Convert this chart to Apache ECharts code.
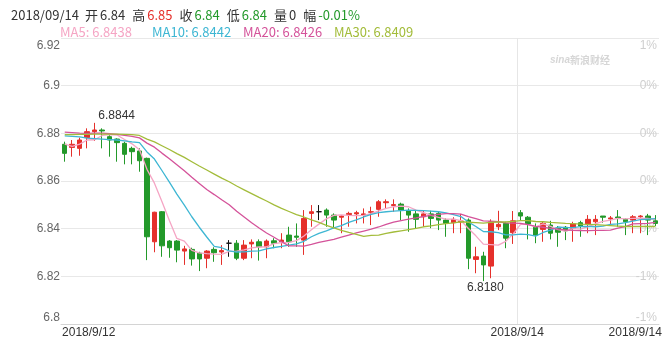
<!DOCTYPE html>
<html><head><meta charset="utf-8">
<script src="https://cdn.jsdelivr.net/npm/echarts@6/dist/echarts.min.js"></script>
<style>html,body{margin:0;padding:0;background:#fff}#c{width:666px;height:339px}</style>
</head><body><div id="c"></div>
<script>
// candle values: open, close, low, high
const opens = [6.8754,6.8741,6.8737,6.8782,6.8807,6.8814,6.8786,6.8776,6.8758,6.8737,6.8726,6.8695,6.8345,6.8471,6.8348,6.8348,6.8306,6.8313,6.8297,6.8276,6.8313,6.8302,6.8339,6.8339,6.8276,6.8336,6.8345,6.8324,6.8349,6.8345,6.8373,6.8369,6.8352,6.8464,6.8471,6.8478,6.8457,6.8448,6.8459,6.8462,6.8457,6.8469,6.8481,6.8509,6.8497,6.8503,6.8475,6.8462,6.8450,6.8462,6.8464,6.8436,6.8425,6.8428,6.8436,6.8271,6.8285,6.8243,6.8408,6.8422,6.8383,6.8467,6.8448,6.8406,6.8397,6.8415,6.8402,6.8406,6.8402,6.8425,6.8420,6.8429,6.8453,6.8441,6.8449,6.8439,6.8436,6.8450,6.8453,6.8433];
const closes = [6.8716,6.8754,6.8772,6.8807,6.8814,6.8810,6.8772,6.8761,6.8712,6.8723,6.8685,6.8366,6.8469,6.8328,6.8320,6.8310,6.8315,6.8273,6.8273,6.8306,6.8299,6.8308,6.8339,6.8276,6.8331,6.8343,6.8324,6.8348,6.8339,6.8352,6.8345,6.8364,6.8443,6.8471,6.8471,6.8457,6.8436,6.8453,6.8464,6.8467,6.8462,6.8471,6.8513,6.8513,6.8501,6.8478,6.8457,6.8439,6.8462,6.8443,6.8436,6.8422,6.8439,6.8432,6.8276,6.8282,6.8248,6.8429,6.8418,6.8360,6.8433,6.8453,6.8420,6.8373,6.8422,6.8381,6.8385,6.8391,6.8420,6.8411,6.8439,6.8439,6.8448,6.8445,6.8445,6.8429,6.8450,6.8453,6.8436,6.8422];
const lows = [6.8681,6.8702,6.8706,6.8737,6.8768,6.8737,6.8702,6.8681,6.8670,6.8670,6.8639,6.8268,6.8301,6.8282,6.8278,6.8259,6.8248,6.8245,6.8222,6.8234,6.8261,6.8248,6.8282,6.8268,6.8268,6.8276,6.8266,6.8276,6.8318,6.8318,6.8324,6.8324,6.8290,6.8408,6.8436,6.8408,6.8402,6.8381,6.8408,6.8422,6.8422,6.8415,6.8450,6.8485,6.8471,6.8436,6.8387,6.8402,6.8408,6.8402,6.8394,6.8366,6.8381,6.8381,6.8230,6.8213,6.8180,6.8192,6.8394,6.8318,6.8336,6.8436,6.8355,6.8339,6.8345,6.8355,6.8324,6.8352,6.8345,6.8366,6.8381,6.8373,6.8425,6.8415,6.8408,6.8373,6.8381,6.8381,6.8373,6.8411];
const highs = [6.8765,6.8772,6.8782,6.8821,6.8844,6.8821,6.8793,6.8779,6.8765,6.8744,6.8737,6.8698,6.8471,6.8474,6.8352,6.8352,6.8328,6.8320,6.8303,6.8310,6.8322,6.8331,6.8352,6.8352,6.8352,6.8355,6.8355,6.8355,6.8360,6.8381,6.8408,6.8422,6.8478,6.8499,6.8499,6.8485,6.8464,6.8457,6.8471,6.8475,6.8485,6.8492,6.8520,6.8523,6.8523,6.8509,6.8485,6.8478,6.8478,6.8475,6.8471,6.8443,6.8448,6.8462,6.8443,6.8324,6.8303,6.8439,6.8475,6.8429,6.8474,6.8478,6.8453,6.8422,6.8429,6.8433,6.8411,6.8411,6.8429,6.8433,6.8457,6.8457,6.8453,6.8453,6.8478,6.8443,6.8457,6.8457,6.8462,6.8457];
const ma5 = [6.8755,6.8745,6.8755,6.8772,6.8773,6.8791,6.8795,6.8793,6.8774,6.8756,6.8731,6.8649,6.8591,6.8514,6.8434,6.8359,6.8348,6.8309,6.8298,6.8295,6.8293,6.8292,6.8305,6.8306,6.8311,6.8319,6.8323,6.8324,6.8337,6.8341,6.8342,6.8350,6.8369,6.8395,6.8419,6.8441,6.8456,6.8458,6.8456,6.8455,6.8456,6.8463,6.8475,6.8485,6.8492,6.8495,6.8492,6.8478,6.8467,6.8456,6.8447,6.8440,6.8440,6.8434,6.8401,6.8370,6.8335,6.8333,6.8331,6.8347,6.8378,6.8419,6.8417,6.8408,6.8420,6.8410,6.8396,6.8390,6.8400,6.8398,6.8409,6.8420,6.8431,6.8436,6.8443,6.8441,6.8443,6.8444,6.8443,6.8438];
const ma10 = [6.8789,6.8787,6.8785,6.8780,6.8778,6.8776,6.8774,6.8772,6.8768,6.8764,6.8761,6.8722,6.8692,6.8644,6.8595,6.8545,6.8499,6.8450,6.8406,6.8365,6.8326,6.8320,6.8307,6.8302,6.8303,6.8306,6.8307,6.8315,6.8321,6.8326,6.8331,6.8336,6.8347,6.8366,6.8380,6.8391,6.8403,6.8413,6.8426,6.8437,6.8449,6.8460,6.8467,6.8471,6.8474,6.8476,6.8478,6.8477,6.8476,6.8474,6.8471,6.8466,6.8459,6.8451,6.8428,6.8409,6.8388,6.8387,6.8383,6.8374,6.8374,6.8377,6.8375,6.8369,6.8384,6.8394,6.8407,6.8404,6.8404,6.8409,6.8410,6.8408,6.8411,6.8418,6.8420,6.8425,6.8432,6.8438,6.8440,6.8442];
const ma20 = [6.8805,6.8803,6.8801,6.8800,6.8801,6.8801,6.8799,6.8796,6.8791,6.8787,6.8781,6.8759,6.8742,6.8717,6.8693,6.8668,6.8643,6.8616,6.8590,6.8564,6.8543,6.8521,6.8500,6.8473,6.8449,6.8425,6.8403,6.8382,6.8364,6.8345,6.8328,6.8328,6.8327,6.8334,6.8342,6.8349,6.8355,6.8364,6.8373,6.8382,6.8390,6.8398,6.8407,6.8418,6.8427,6.8434,6.8440,6.8445,6.8451,6.8456,6.8460,6.8463,6.8463,6.8461,6.8451,6.8442,6.8433,6.8432,6.8429,6.8424,6.8423,6.8422,6.8417,6.8410,6.8406,6.8401,6.8398,6.8395,6.8393,6.8392,6.8392,6.8393,6.8393,6.8394,6.8402,6.8409,6.8420,6.8421,6.8422,6.8426];
const ma30 = [6.8795,6.8795,6.8796,6.8796,6.8797,6.8797,6.8797,6.8797,6.8796,6.8795,6.8791,6.8776,6.8764,6.8748,6.8732,6.8715,6.8699,6.8681,6.8663,6.8646,6.8629,6.8612,6.8597,6.8579,6.8563,6.8547,6.8531,6.8516,6.8500,6.8485,6.8472,6.8459,6.8449,6.8437,6.8426,6.8414,6.8403,6.8393,6.8384,6.8376,6.8368,6.8372,6.8373,6.8380,6.8386,6.8391,6.8396,6.8401,6.8408,6.8412,6.8417,6.8421,6.8424,6.8429,6.8427,6.8425,6.8423,6.8426,6.8428,6.8428,6.8431,6.8434,6.8434,6.8430,6.8429,6.8426,6.8424,6.8422,6.8421,6.8419,6.8418,6.8417,6.8415,6.8413,6.8411,6.8409,6.8409,6.8409,6.8409,6.8409];
const categories = closes.map((_, i) => String(i));
const xTickIndex = [0, 61, 79];
const xTickText = ['2018/9/12', '2018/9/14', '2018/9/14'];
const rightTickLabels = ['-1%', '-1%', '0%', '0%', '0%', '0%', '1%'];
const headerDate = '2018/09/14';
const headerVolume = '0';
const headerChange = '-0.01%';

const RED = '#e5302b', GREEN = '#23992a';
const C5 = '#f5a5c4', C10 = '#3db6d3', C20 = '#d4539a', C30 = '#a3bc3a';
const candleData = opens.map((o, i) => [o, closes[i], lows[i], highs[i]]);
const last = candleData.length - 1;
const f2 = v => v.toFixed(2);
const FONT = '"Noto Sans CJK SC", "Liberation Sans", sans-serif';
const AX = '"Liberation Sans", sans-serif';

const chart = echarts.init(document.getElementById('c'), null, {renderer: 'canvas'});
const hs = (c, pr) => ({color: c, fontSize: 13, fontFamily: FONT, padding: [0, pr, 0, 0]});
chart.setOption({
  animation: false,
  backgroundColor: '#fff',
  title: [
    {
      left: 6, top: 4,
      text: '{d|' + headerDate + '}{k|开}{n|' + f2(opens[last]) + '}{k|高}{r|' + f2(highs[last]) + '}{k|收}{g|' + f2(closes[last]) + '}{k|低}{g|' + f2(lows[last]) + '}{k|量}{n|' + headerVolume + '}{k|幅}{g|' + headerChange + '}',
      textStyle: {
        fontSize: 13, fontFamily: FONT, fontWeight: 'normal',
        rich: {
          d: hs('#333', 6), k: hs('#333', 2), n: hs('#333', 7),
          r: hs(RED, 7), g: hs(GREEN, 7)
        }
      }
    },
    {
      left: 55, top: 21,
      text: '{a|MA5: ' + ma5[last].toFixed(4) + '}{b|MA10: ' + ma10[last].toFixed(4) + '}{c|MA20: ' + ma20[last].toFixed(4) + '}{e|MA30: ' + ma30[last].toFixed(4) + '}',
      textStyle: {
        fontSize: 13, fontFamily: FONT, fontWeight: 'normal',
        rich: {
          a: {color: C5, fontSize: 13, fontFamily: FONT, width: 92},
          b: {color: C10, fontSize: 13, fontFamily: FONT, width: 91},
          c: {color: C20, fontSize: 13, fontFamily: FONT, width: 91},
          e: {color: C30, fontSize: 13, fontFamily: FONT}
        }
      }
    },
    {
      left: 545, top: 50,
      text: '{s|sina}{x|新浪财经}',
      textStyle: {
        rich: {
          s: {color: '#d6d6d6', fontSize: 10, fontStyle: 'italic', fontWeight: 'bold', fontFamily: AX},
          x: {color: '#d6d6d6', fontSize: 10, fontFamily: FONT}
        }
      }
    }
  ],
  grid: {left: 61, right: 7, top: 38, bottom: 15},
  xAxis: [
    {
      type: 'category',
      data: categories,
      boundaryGap: true,
      axisLine: {show: true, lineStyle: {color: '#d4d4d4'}},
      axisTick: {show: false},
      splitLine: {show: false},
      axisLabel: {
        interval: (i) => xTickIndex.indexOf(i) >= 0,
        margin: 3,
        color: '#333', fontSize: 12, fontFamily: AX,
        formatter: (v) => {
          const k = xTickIndex.indexOf(Number(v));
          return k < 0 ? '' : '{p' + k + '|' + xTickText[k] + '}';
        },
        rich: {
          p0: {padding: [0, 0, 0, 48], color: '#333', fontSize: 12, fontFamily: AX},
          p1: {padding: [0, 7, 0, 0], color: '#333', fontSize: 12, fontFamily: AX},
          p2: {padding: [0, 40, 0, 0], color: '#333', fontSize: 12, fontFamily: AX}
        }
      }
    },
    {
      // band-boundary axis used only for the day separator line
      type: 'value', min: 0, max: categories.length, interval: xTickIndex[1],
      position: 'bottom',
      axisLine: {show: false}, axisTick: {show: false}, axisLabel: {show: false},
      splitLine: {show: true, showMinLine: false, showMaxLine: false, lineStyle: {color: '#e6e6e6'}}
    }
  ],
  yAxis: [
    {
      type: 'value', min: 6.8, max: 6.92, interval: 0.02,
      axisLine: {show: false}, axisTick: {show: false},
      splitLine: {lineStyle: {color: '#e8e8e8'}},
      axisLabel: {
        margin: 1, color: '#666', fontSize: 12, fontFamily: AX,
        formatter: (v) => {
          const s = String(+v.toFixed(2));
          if (Math.abs(v - 6.92) < 1e-9) return '{t|' + s + '}';
          if (Math.abs(v - 6.8) < 1e-9) return '{b|' + s + '}';
          return s;
        },
        rich: {
          t: {padding: [16, 0, 0, 0], color: '#666', fontSize: 12, fontFamily: AX},
          b: {padding: [0, 0, 12, 0], color: '#666', fontSize: 12, fontFamily: AX}
        }
      }
    },
    {
      type: 'value', position: 'right', min: 6.8, max: 6.92, interval: 0.02,
      axisLine: {show: false}, axisTick: {show: false}, splitLine: {show: false},
      axisLabel: {
        inside: true, margin: 2, color: '#cfcfcf', fontSize: 12, fontFamily: AX,
        formatter: (v, i) => {
          const s = rightTickLabels[i];
          if (i === rightTickLabels.length - 1) return '{t|' + s + '}';
          if (i === 0) return '{b|' + s + '}';
          return s;
        },
        rich: {
          t: {padding: [16, 0, 0, 0], color: '#cfcfcf', fontSize: 12, fontFamily: AX},
          b: {padding: [0, 0, 12, 0], color: '#cfcfcf', fontSize: 12, fontFamily: AX}
        }
      }
    }
  ],
  series: [
    {
      type: 'candlestick',
      data: candleData,
      barWidth: 5,
      itemStyle: {color: RED, color0: GREEN, borderColor: RED, borderColor0: GREEN, borderColorDoji: '#111', borderWidth: 1},
      markPoint: {
        symbol: 'circle', symbolSize: 0,
        data: [
          {type: 'max', valueDim: 'highest', label: {position: 'top', distance: 1, offset: [22, 0]}},
          {type: 'min', valueDim: 'lowest', label: {position: 'bottom', distance: 1, offset: [2, 0]}}
        ],
        label: {show: true, color: '#333', fontSize: 12, fontFamily: AX, formatter: (p) => Number(p.value).toFixed(4)}
      }
    },
    {type: 'line', data: ma5, symbol: 'none', lineStyle: {color: C5, width: 1.3}, itemStyle: {color: C5}},
    {type: 'line', data: ma10, symbol: 'none', lineStyle: {color: C10, width: 1.3}, itemStyle: {color: C10}},
    {type: 'line', data: ma20, symbol: 'none', lineStyle: {color: C20, width: 1.3}, itemStyle: {color: C20}},
    {type: 'line', data: ma30, symbol: 'none', lineStyle: {color: C30, width: 1.3}, itemStyle: {color: C30}}
  ]
});
</script>
</body></html>
